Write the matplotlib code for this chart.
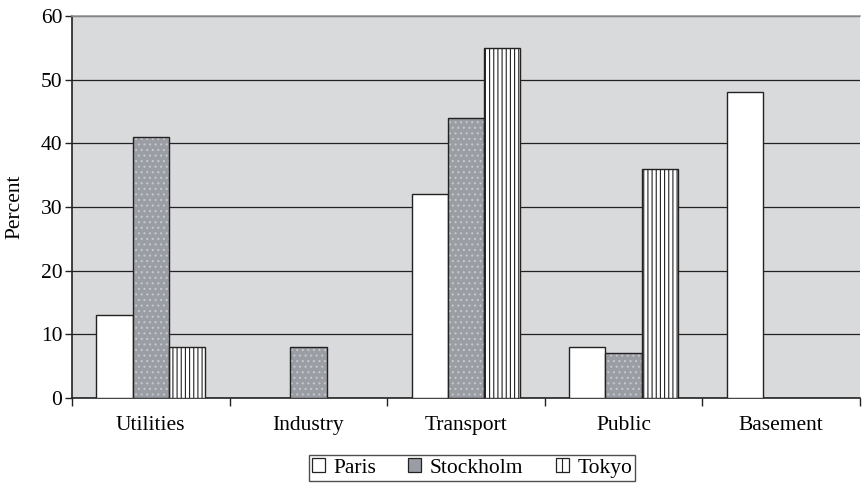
import matplotlib
matplotlib.use("Agg")
import matplotlib.pyplot as plt
from matplotlib.patches import Patch
import numpy as np

categories = ["Utilities", "Industry", "Transport", "Public", "Basement"]
paris = [13, 0, 32, 8, 48]
stockholm = [41, 8, 44, 7, 0]
tokyo = [8, 0, 55, 36, 0]
y_ticks = [0, 10, 20, 30, 40, 50, 60]

plt.rcParams["font.family"] = ["Liberation Serif", "DejaVu Serif"]
plt.rcParams["hatch.linewidth"] = 0.8

FS = 15.5

fig = plt.figure(figsize=(8.68, 4.9), dpi=100)
ax = fig.add_axes([72 / 868, 1 - 398 / 490, 788 / 868, 382 / 490])
ax.set_facecolor("#d9dadc")

x = np.arange(len(categories))
w = 0.23
edge = "#222222"

ax.set_axisbelow(True)
ax.yaxis.grid(True, color="#222222", linewidth=0.9)

def draw(vals, offset, kind):
    pos = [xi + offset for xi, v in zip(x, vals) if v > 0]
    hs = [v for v in vals if v > 0]
    if kind == "paris":
        ax.bar(pos, hs, w, color="white", edgecolor=edge, linewidth=1.0, zorder=3)
    elif kind == "stockholm":
        ax.bar(pos, hs, w, color="#9a9ea4", edgecolor="#c4c7cb", hatch="...",
               linewidth=0, zorder=3)
        ax.bar(pos, hs, w, color="none", edgecolor=edge, linewidth=1.0, zorder=4)
    else:
        ax.bar(pos, hs, w, color="white", edgecolor=edge, hatch="||||",
               linewidth=1.0, zorder=3)

draw(paris, -w, "paris")
draw(stockholm, 0, "stockholm")
draw(tokyo, w, "tokyo")

ax.set_xlim(-0.5, len(categories) - 0.5)
ax.set_ylim(0, 60)
ax.set_yticks(y_ticks)
ax.set_ylabel("Percent", fontsize=FS, labelpad=12)
ax.tick_params(axis="y", labelsize=FS, length=5, width=1, color=edge, pad=2)

ax.set_xticks(np.arange(len(categories) + 1) - 0.5)
ax.set_xticklabels([])
ax.set_xticks(x, minor=True)
ax.set_xticklabels(categories, minor=True, fontsize=FS)
ax.tick_params(axis="x", which="major", length=6, width=1, color=edge)
ax.tick_params(axis="x", which="minor", length=0, pad=13)

for s in ["left", "bottom"]:
    ax.spines[s].set_color(edge)
    ax.spines[s].set_linewidth(1.2)
ax.spines["top"].set_color("#999999")
ax.spines["top"].set_linewidth(1.2)
ax.spines["right"].set_visible(False)

handles = [
    Patch(facecolor="white", edgecolor=edge, linewidth=0.9),
    Patch(facecolor="#9a9ea4", edgecolor=edge, linewidth=0.9),
    Patch(facecolor="white", edgecolor=edge, hatch="||", linewidth=0.9),
]
leg = fig.legend(handles, ["Paris", "Stockholm", "Tokyo"], ncol=3,
                 loc="center", bbox_to_anchor=(472 / 868, 1 - 468 / 490),
                 fontsize=FS, frameon=True, fancybox=False,
                 handlelength=0.6, handleheight=0.6, handletextpad=0.4,
                 columnspacing=1.5, borderpad=0.15, borderaxespad=0)
leg.get_frame().set_edgecolor(edge)
leg.get_frame().set_linewidth(1.0)

fig.savefig("out.png", dpi=100)
